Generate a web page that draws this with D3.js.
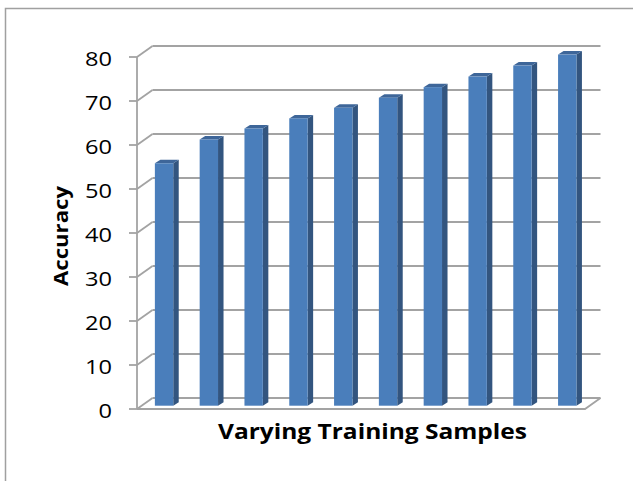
<!DOCTYPE html>
<html>
<head>
<meta charset="utf-8">
<script src="https://cdn.jsdelivr.net/npm/d3@7"></script>
<style>
  body { margin: 0; background: #fff; }
  svg { display: block; }
  text { font-family: "Open Sans", "DejaVu Sans", sans-serif; fill: #000; }
</style>
</head>
<body>
<div id="chart"></div>
<script>
  // training sample groups (no labels shown on the axis)
  const groups = [1, 2, 3, 4, 5, 6, 7, 8, 9, 10];
  const accuracy = [55.1, 60.5, 63.0, 65.3, 67.7, 70.0, 72.4, 74.8, 77.3, 79.8];
  const yTicks = [0, 10, 20, 30, 40, 50, 60, 70, 80];

  const W = 633, H = 481;

  const svg = d3.select("#chart")
    .append("svg")
    .attr("width", W)
    .attr("height", H);

  // outer frame (top + left edges only are visible)
  svg.append("path")
    .attr("d", "M5.5,481 L5.5,8.5 L633,8.5")
    .attr("fill", "none")
    .attr("stroke", "#a0a0a0")
    .attr("stroke-width", 1.5);

  // front plane of the 3d box
  const x = d3.scaleBand()
    .domain(groups)
    .range([137, 585])
    .paddingInner(0.59)
    .paddingOuter(0.295);

  const y = d3.scaleLinear()
    .domain([0, 80])
    .range([409, 57]);

  // depth vector of the floor / side wall
  const depth = { dx: 15.5, dy: -11 };
  const gridColor = "#a3a3a3";

  // back wall gridlines
  svg.selectAll("line.grid")
    .data(yTicks)
    .enter()
    .append("line")
    .attr("x1", x.range()[0] + depth.dx)
    .attr("x2", x.range()[1] + depth.dx)
    .attr("y1", d => y(d) + depth.dy)
    .attr("y2", d => y(d) + depth.dy)
    .attr("stroke", gridColor)
    .attr("stroke-width", 1.8);

  // side wall diagonals
  svg.selectAll("line.side")
    .data(yTicks)
    .enter()
    .append("line")
    .attr("x1", x.range()[0])
    .attr("x2", x.range()[0] + depth.dx)
    .attr("y1", d => y(d))
    .attr("y2", d => y(d) + depth.dy)
    .attr("stroke", gridColor)
    .attr("stroke-width", 1.8);

  // tick marks
  svg.selectAll("line.tick")
    .data(yTicks)
    .enter()
    .append("line")
    .attr("x1", x.range()[0] - 8)
    .attr("x2", x.range()[0])
    .attr("y1", d => y(d))
    .attr("y2", d => y(d))
    .attr("stroke", gridColor)
    .attr("stroke-width", 1.8);

  // value axis line
  svg.append("line")
    .attr("x1", x.range()[0])
    .attr("x2", x.range()[0])
    .attr("y1", y(0))
    .attr("y2", y(80))
    .attr("stroke", gridColor)
    .attr("stroke-width", 1.8);

  // floor front + right edges
  svg.append("path")
    .attr("d", `M${x.range()[0]},${y(0)} L${x.range()[1]},${y(0)} L${x.range()[1] + depth.dx},${y(0) + depth.dy}`)
    .attr("fill", "none")
    .attr("stroke", gridColor)
    .attr("stroke-width", 1.8);

  // bars: front face sits a bit behind the front plane
  const shift = { dx: depth.dx * 0.3, dy: depth.dy * 0.3 };
  const bd = { dx: 5.5, dy: -3.5 };
  const bw = x.bandwidth();

  const bars = svg.selectAll("g.bar")
    .data(groups.map((g, i) => ({ g, v: accuracy[i] })))
    .enter()
    .append("g")
    .attr("transform", `translate(${shift.dx},${shift.dy})`);

  // side face
  bars.append("path")
    .attr("d", d => {
      const x1 = x(d.g) + bw, yt = y(d.v), yb = y(0);
      return `M${x1},${yb} L${x1},${yt} L${x1 + bd.dx},${yt + bd.dy} L${x1 + bd.dx},${yb + bd.dy} Z`;
    })
    .attr("fill", "#33557f");

  // top face
  bars.append("path")
    .attr("d", d => {
      const x0 = x(d.g), x1 = x0 + bw, yt = y(d.v);
      return `M${x0},${yt} L${x1},${yt} L${x1 + bd.dx},${yt + bd.dy} L${x0 + bd.dx},${yt + bd.dy} Z`;
    })
    .attr("fill", "#3e6699");

  // front face
  bars.append("rect")
    .attr("x", d => x(d.g))
    .attr("y", d => y(d.v))
    .attr("width", bw)
    .attr("height", d => y(0) - y(d.v))
    .attr("fill", "#4a7ebb");

  // tick labels
  svg.selectAll("text.ylab")
    .data(yTicks)
    .enter()
    .append("text")
    .attr("x", 112)
    .attr("y", d => y(d) + 9)
    .attr("text-anchor", "end")
    .attr("font-size", 20)
    .attr("textLength", d => String(d).length * 13.5)
    .attr("lengthAdjust", "spacingAndGlyphs")
    .text(d => d);

  // axis titles
  svg.append("text")
    .attr("x", 372.5)
    .attr("y", 439)
    .attr("text-anchor", "middle")
    .attr("font-size", 20.5)
    .attr("font-weight", "bold")
    .attr("textLength", 309)
    .attr("lengthAdjust", "spacingAndGlyphs")
    .text("Varying Training Samples");

  svg.append("text")
    .attr("transform", "translate(67.5,236) rotate(-90)")
    .attr("text-anchor", "middle")
    .attr("font-size", 20)
    .attr("font-weight", "bold")
    .attr("textLength", 100)
    .attr("lengthAdjust", "spacingAndGlyphs")
    .text("Accuracy");
</script>
</body>
</html>
